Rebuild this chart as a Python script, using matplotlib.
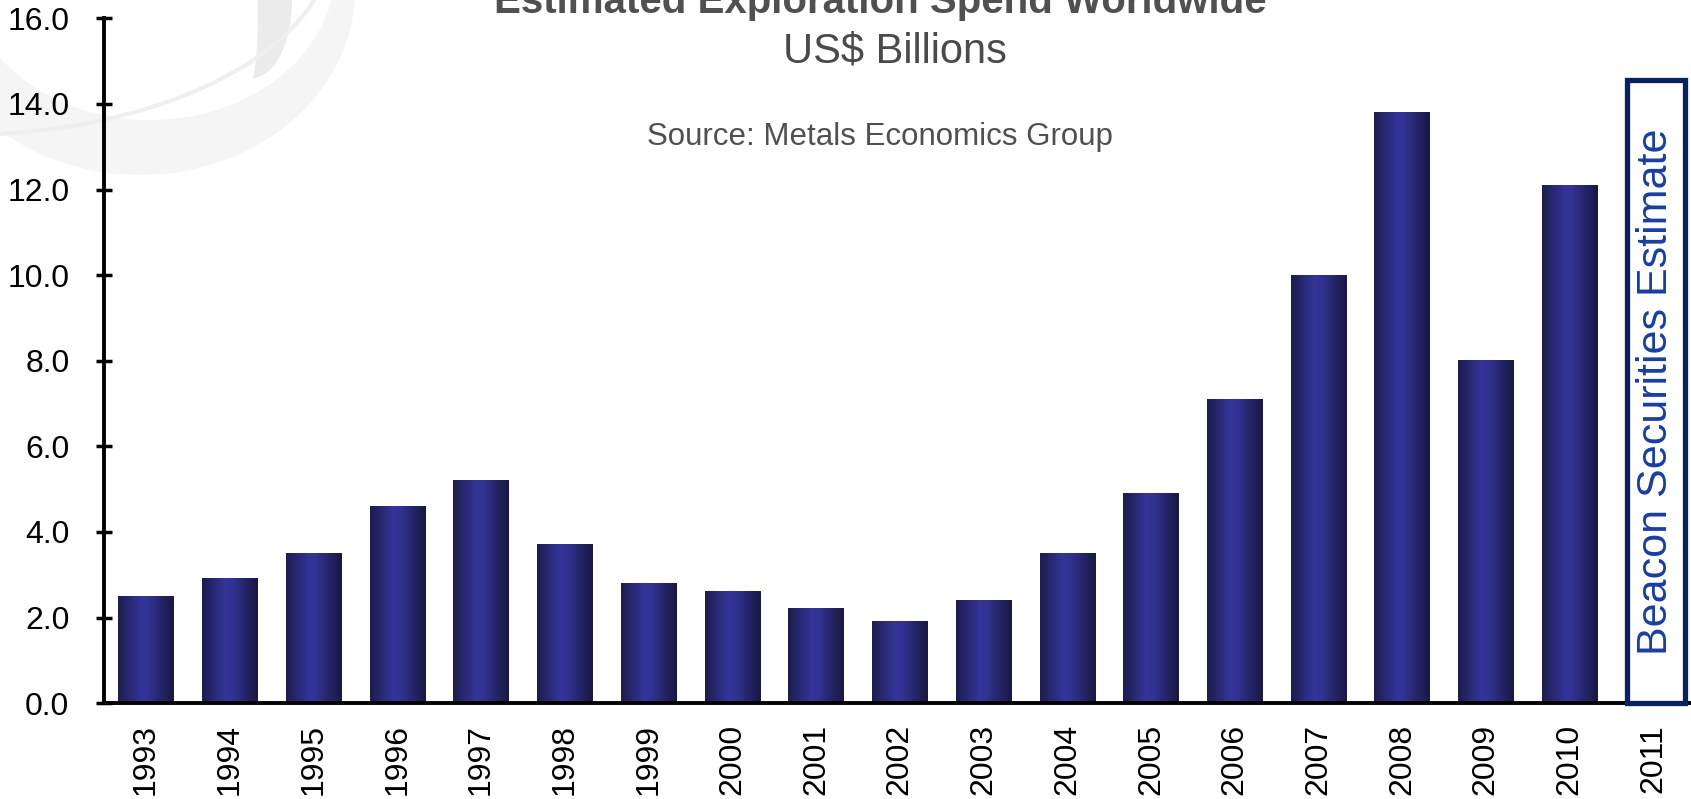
import numpy as np
import matplotlib.pyplot as plt
from matplotlib.colors import LinearSegmentedColormap
from matplotlib.patches import Rectangle, Polygon

plt.rcParams['font.family'] = ['Liberation Sans', 'DejaVu Sans']

# Exploration spend by year (US$ billions)
years = ['1993', '1994', '1995', '1996', '1997', '1998', '1999', '2000', '2001',
         '2002', '2003', '2004', '2005', '2006', '2007', '2008', '2009', '2010', '2011']
spend = [2.5, 2.9, 3.5, 4.6, 5.2, 3.7, 2.8, 2.6, 2.2,
         1.9, 2.4, 3.5, 4.9, 7.1, 10.0, 13.8, 8.0, 12.1]
estimate_2011 = 14.55

title = 'Estimated Exploration Spend Worldwide'
subtitle = 'US$ Billions'
source = 'Source: Metals Economics Group'
estimate_label = 'Beacon Securities Estimate'


def ellipse_pts(cx, cy, a, b, t0, t1, n=80):
    t = np.linspace(np.radians(t0), np.radians(t1), n)
    return np.column_stack([cx + a * np.cos(t), cy + b * np.sin(t)])


fig = plt.figure(figsize=(16.91, 7.99), dpi=100)

# faint swirl logo behind the chart, top-left (pixel coords, y down)
bg = fig.add_axes([0, 0, 1, 1])
bg.set_xlim(0, 1691)
bg.set_ylim(799, 0)
bg.axis('off')
outer = ellipse_pts(140, -10, 215, 185, 180, 0)
inner = ellipse_pts(150, -30, 185, 150, 0, 180)
bg.add_patch(Polygon(np.vstack([outer, inner]), closed=True, fc='#f5f5f5', ec='none'))
outer = ellipse_pts(252, 0, 40, 78, 0, 90)
inner = ellipse_pts(252, 0, 6, 78, 90, 0)
bg.add_patch(Polygon(np.vstack([outer, inner]), closed=True, fc='#ebebeb', ec='none'))
line = ellipse_pts(-40, -60, 372, 195, 90, 0)
bg.plot(line[:, 0], line[:, 1], color='#efefef', lw=3)

ax = fig.add_axes([104.2 / 1691, 0.12, 1 - 104.2 / 1691, 0.857])
ax.patch.set_alpha(0)

bar_cmap = LinearSegmentedColormap.from_list(
    'bar', [(0, '#1c1c4c'), (0.42, '#35359b'), (0.55, '#323292'), (1, '#18183f')])
grad = np.linspace(0, 1, 256).reshape(1, -1)

w = 0.66
for i, v in enumerate(spend):
    ax.imshow(grad, cmap=bar_cmap, aspect='auto', interpolation='bicubic',
              extent=(i - w / 2, i + w / 2, 0, v), zorder=2)

# 2011 estimate box
n = len(spend)
ax.add_patch(Rectangle((n + 0.03 - 0.35, 0), 0.70, estimate_2011, fill=False,
                       ec='#0a2160', lw=3.8, zorder=3, clip_on=False))
ax.text(n + 0.03, estimate_2011 / 2, estimate_label, rotation=90, ha='center',
        va='center', fontsize=31, color='#1a3ea0', zorder=4)

ax.set_xlim(-0.5, 18.45)
ax.set_ylim(0, 16)
ax.set_xticks(range(len(years)))
ax.set_xticklabels(years, rotation=90, fontsize=23)
ax.set_yticks(np.arange(0, 17, 2))
ax.set_yticklabels([f'{t:.1f}' for t in np.arange(0, 17, 2)], fontsize=23)
ax.tick_params(axis='x', length=0, pad=15)
ax.tick_params(axis='y', direction='inout', length=12, width=2.5, pad=19)
for s in ['top', 'right']:
    ax.spines[s].set_visible(False)
ax.spines['left'].set_linewidth(2.8)
ax.spines['bottom'].set_linewidth(2.8)

fig.text(880 / 1691, 1 - 13 / 799, title, ha='center', va='baseline',
         fontsize=29, fontweight='bold', color='#505050')
fig.text(895 / 1691, 1 - 62.5 / 799, subtitle, ha='center', va='baseline',
         fontsize=30, color='#4a4a4a')
fig.text(880 / 1691, 1 - 144.5 / 799, source, ha='center', va='baseline',
         fontsize=22.5, color='#505050')

fig.savefig('out.png', dpi=100)
